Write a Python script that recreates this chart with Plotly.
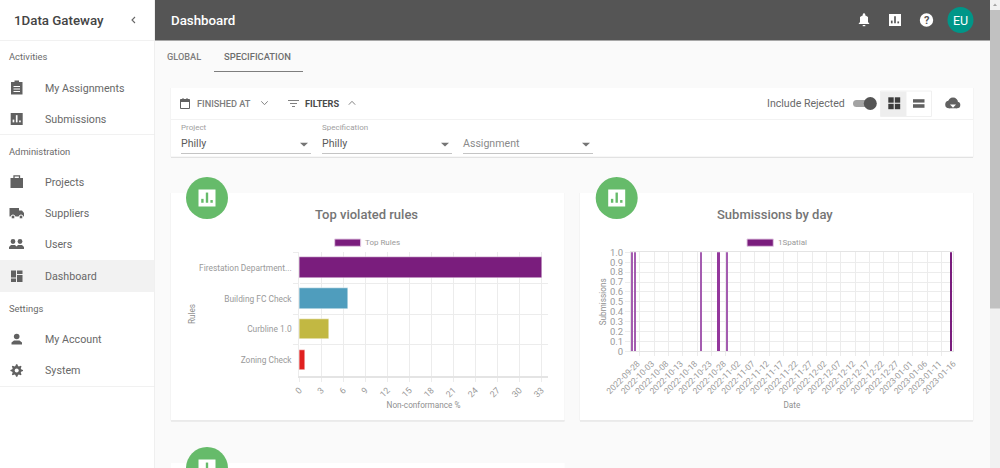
#!/usr/bin/env python

import logging
import math

import pandas as pd
import plotly.graph_objects as go
from plotly.subplots import make_subplots

logging.basicConfig(encoding="utf-8", level=logging.INFO)


WIDTH = 1000
HEIGHT = 468
FONT = "Roboto"
PURPLE = "#7a1d7d"
GREY = "#616161"
GRID = "#ececec"
TICK_TEXT = "#9a9a9a"
TITLE_TEXT = "#8f8f8f"

RULES = ["Firestation Department...", "Building FC Check", "Curbline 1.0", "Zoning Check"]
RULE_VALUES = [33.15, 6.74, 4.1, 0.82]
RULE_COLORS = [PURPLE, "#4f9dbd", "#c2b842", "#e0201f"]

SUBMISSION_DAYS = ["2022-09-27", "2022-09-28", "2022-10-21", "2022-10-27", "2022-10-30", "2023-01-16"]
SUBMISSION_VALUES = [1, 1, 1, 1, 1, 1]
SUBMISSION_COLORS = ["#a45cb0", "#a45cb0", "#a45cb0", "#93379c", "#a45cb0", PURPLE]

shapes = []
annotations = []


def px(x):
    """pixel column to paper coordinate"""
    return x / WIDTH


def py(y):
    """pixel row to paper coordinate"""
    return 1 - y / HEIGHT


def poly(points, color=None, line=None, width=1):
    """add a path through pixel points, closed when it has a fill"""
    path = "M " + " L ".join(f"{px(x):.5f} {py(y):.5f}" for x, y in points)
    if color:
        path += " Z"
    shapes.append(
        dict(
            type="path",
            xref="paper",
            yref="paper",
            path=path,
            fillcolor=color or "rgba(0,0,0,0)",
            line=dict(color=line or "rgba(0,0,0,0)", width=width if line else 0),
            layer="below",
        )
    )


def rect(x0, y0, x1, y1, color, line=None):
    """add a rectangle in pixels"""
    shapes.append(
        dict(
            type="rect",
            xref="paper",
            yref="paper",
            x0=px(x0),
            x1=px(x1),
            y0=py(y0),
            y1=py(y1),
            fillcolor=color,
            line=dict(color=line or "rgba(0,0,0,0)", width=1 if line else 0),
            layer="below",
        )
    )


def circle(cx, cy, r, color, line=None):
    """add a circle in pixels"""
    shapes.append(
        dict(
            type="circle",
            xref="paper",
            yref="paper",
            x0=px(cx - r),
            x1=px(cx + r),
            y0=py(cy + r),
            y1=py(cy - r),
            fillcolor=color,
            line=dict(color=line or "rgba(0,0,0,0)", width=1 if line else 0),
            layer="below",
        )
    )


def text(x, y, label, size=11.5, color=GREY, anchor="left", weight=400):
    """add one label, y is the middle of the text"""
    if anchor == "left":
        x -= 1  # annotations keep a pixel of padding
    annotations.append(
        dict(
            xref="paper",
            yref="paper",
            x=px(x),
            y=py(y + 0.4),
            text=label,
            showarrow=False,
            xanchor=anchor,
            yanchor="middle",
            borderpad=0,
            font=dict(family=FONT, size=size, color=color, weight=weight),
        )
    )


def card(x0, y0, x1, y1):
    """white card with a soft shadow"""
    rect(x0, y0 + 1.5, x1, y1 + 1.5, "#dedede")
    rect(x0 - 0.5, y0, x1 + 0.5, y1 + 0.7, "#eeeeee")
    rect(x0, y0, x1, y1, "#ffffff")


def chart_icon(cx, cy, size, back, front):
    """square with three bars"""
    half = size / 2
    rect(cx - half, cy - half, cx + half, cy + half, back)
    for dx, top in [(-0.27, 0.1), (0, -0.27), (0.27, 0.17)]:
        rect(cx + dx * size - 0.07 * size, cy + top * size - 0.05 * size, cx + dx * size + 0.07 * size,
             cy + 0.28 * size, front)


def chevron(cx, cy, up=False, color="#858585"):
    """small open arrow"""
    tip = -1.7 if up else 1.7
    poly([(cx - 3.2, cy - tip), (cx, cy + tip), (cx + 3.2, cy - tip)], line=color, width=1)


def draw_sidebar():
    """left menu with its icons"""
    rect(0, 0, 154.5, HEIGHT, "#ffffff")
    rect(154.2, 0, 155, HEIGHT, "#ececec")
    rect(0, 40.2, 155, 41, "#ececec")
    rect(0, 134.2, 155, 135, "#ececec")
    rect(0, 260, 154.5, 292, "#f2f2f2")
    rect(0, 386.2, 155, 387, "#ececec")

    text(14, 20, "1Data Gateway", size=13.3, color="#444444", weight=500)
    poly([(135, 17), (132, 20), (135, 23)], line="#666666", width=1.1)

    for y, label in [(56, "Activities"), (151, "Administration"), (308, "Settings")]:
        text(9, y, label, size=9.4, color="#6a6a6a")
    for y, label in [
        (88, "My Assignments"),
        (119, "Submissions"),
        (182, "Projects"),
        (213, "Suppliers"),
        (244.5, "Users"),
        (276, "Dashboard"),
        (339, "My Account"),
        (370.5, "System"),
    ]:
        text(45, y, label, size=10.7, color="#686868")

    # clipboard
    rect(11, 82, 22.5, 94.5, GREY)
    rect(14.5, 80.5, 19, 83, GREY)
    for y in [86, 88.5, 91]:
        rect(13.5, y, 20, y + 1, "#ffffff")
    chart_icon(16.7, 119, 12, GREY, "#ffffff")
    # briefcase
    rect(10.5, 178, 23, 188, GREY)
    poly([(14, 178), (14, 175.8), (19.5, 175.8), (19.5, 178)], line=GREY, width=1.3)
    # truck
    rect(9.5, 208, 19, 216.5, GREY)
    poly([(19, 210.5), (22, 210.5), (24, 213), (24, 216.5), (19, 216.5)], color=GREY)
    for x in [13, 21]:
        circle(x, 217, 2, GREY, line="#ffffff")
    # users
    for x in [13, 20]:
        circle(x, 241.5, 2.4, GREY)
        poly([(x - 4, 249), (x - 4, 247), (x - 2, 245), (x + 2, 245), (x + 4, 247), (x + 4, 249)], color=GREY)
    # dashboard
    rect(11, 270.5, 16, 277.5, GREY)
    rect(11, 278.5, 16, 282, GREY)
    rect(17, 270.5, 22.5, 274, GREY)
    rect(17, 275, 22.5, 282, GREY)
    # account
    circle(16.7, 336.5, 2.8, GREY)
    poly([(11.5, 344.5), (11.5, 342.5), (14, 340.5), (19.5, 340.5), (22, 342.5), (22, 344.5)], color=GREY)
    # gear
    teeth = []
    for i in range(32):
        radius = 6.3 if i % 4 in (0, 1) else 4.6
        angle = 2 * math.pi * (i - 0.5) / 32
        teeth.append((16.7 + radius * math.cos(angle), 370.5 + radius * math.sin(angle)))
    poly(teeth, color=GREY)
    circle(16.7, 370.5, 2, "#ffffff")


def draw_header():
    """dark title bar, tabs and the scrollbar"""
    rect(155, 0, 990, 40.5, "#555555")
    text(170.5, 20, "Dashboard", size=13.3, color="#ffffff", weight=500)

    # bell
    poly([(858.5, 24), (860, 22), (860, 17), (864, 14.5), (868, 17), (868, 22), (869.5, 24)], color="#ffffff")
    circle(864, 14.5, 1.2, "#ffffff")
    rect(862.7, 25, 865.3, 26.2, "#ffffff")
    chart_icon(895, 20, 12, "#ffffff", "#555555")
    circle(926.5, 20, 6.7, "#ffffff")
    text(926.5, 20, "?", size=11, color="#555555", anchor="center", weight=700)
    circle(960.5, 20, 13, "#009688")
    text(960.5, 20, "EU", size=12.5, color="#ffffff", anchor="center")

    text(167, 56, "GLOBAL", size=9.2, color="#7d7d7d", weight=500)
    text(224, 56, "SPECIFICATION", size=9.4, color="#6e6e6e", weight=500)
    rect(214, 71.2, 303, 72, "#555555")

    rect(990, 0, 1000, HEIGHT, "#f1f1f1")
    rect(990, 10, 1000, 308.5, "#c1c1c1")
    poly([(993, 6), (995, 3.5), (997, 6)], color="#a3a3a3")


def draw_filters():
    """the card with the filters"""
    card(171, 88, 973, 156.5)
    rect(171, 119.2, 973, 120, "#eeeeee")

    # calendar
    rect(180.5, 99.5, 189.5, 108.5, "#ffffff", line=GREY)
    rect(180.5, 99.5, 189.5, 102, GREY)
    rect(182.5, 98, 183.5, 100, GREY)
    rect(186.5, 98, 187.5, 100, GREY)
    text(197, 103, "FINISHED AT", size=9.2, color="#7d7d7d", weight=500)
    chevron(264.5, 103)

    # filter lines
    rect(288, 100.2, 299, 101, GREY)
    rect(290, 103.2, 297, 104, GREY)
    rect(292, 106.2, 295, 107, GREY)
    text(305, 103, "FILTERS", size=9.2, color="#4a4a4a", weight=700)
    chevron(352, 103, up=True)

    text(767, 103, "Include Rejected", size=10.6, color="#6a6a6a")
    rect(856, 100, 872, 107, "#a3a3a3")
    circle(856.5, 103.5, 3.5, "#a3a3a3")
    circle(870.3, 103.5, 6.5, "#555555")

    rect(880.5, 91, 931.5, 116.5, "#ffffff", line="#f0f0f0")
    rect(881, 91.5, 906.5, 116, "#eeeeee")
    for x, y in [(891, 100), (897.5, 100), (891, 106.5), (897.5, 106.5)]:
        rect(x - 2.7, y - 2.7, x + 2.7, y + 2.7, "#3c3c3c")
    rect(913, 99.2, 924.5, 102.6, "#616161")
    rect(913, 104.2, 924.5, 107.8, "#616161")

    # cloud
    circle(949, 104.5, 3.8, GREY)
    circle(953, 102.5, 5, GREY)
    circle(957, 105, 3.3, GREY)
    rect(949, 104, 957, 108.3, GREY)
    poly([(950, 104.5), (956, 104.5), (953, 107.8)], color="#ffffff")

    selects = [
        (181, 311, "Project", "Philly", "#5a5a5a"),
        (322, 452, "Specification", "Philly", "#5a5a5a"),
        (463, 593, "", "Assignment", "#8a8a8a"),
    ]
    for x0, x1, label, value, color in selects:
        if label:
            text(x0, 127.5, label, size=8, color="#a0a0a0")
        text(x0, 143, value, size=10.6, color=color)
        rect(x0, 153.2, x1, 154, "#b0b0b0")
        poly([(x1 - 11, 142.7), (x1 - 3, 142.7), (x1 - 7, 146.5)], color="#757575")


def draw_chart_cards():
    """cards, green badges, titles and legend keys around the charts"""
    card(171, 193, 564.5, 420)
    card(580, 193, 973, 420)
    rect(171, 463, 564.5, 470, "#ffffff")

    for cx, cy in [(207, 198), (616.7, 198), (207, 468)]:
        circle(cx, cy, 21, "#66bb6a")
        chart_icon(cx, cy, 17, "#ffffff", "#66bb6a")

    text(366, 214, "Top violated rules", size=13, color="#757575", anchor="center", weight=500)
    text(775, 214, "Submissions by day", size=13, color="#757575", anchor="center", weight=500)

    rect(334.7, 239, 360.7, 246.3, PURPLE, line="#e3cbe4")
    text(364.5, 242, "Top Rules", size=8, color=TICK_TEXT)
    rect(747, 239, 773.3, 246.3, PURPLE, line="#e3cbe4")
    text(777.5, 242, "1Spatial", size=8, color=TICK_TEXT)


if __name__ == "__main__":
    logging.info("drawing page")
    draw_sidebar()
    draw_header()
    draw_filters()
    draw_chart_cards()

    # now plot
    fig = make_subplots(rows=1, cols=2)
    fig.add_trace(
        go.Bar(
            x=RULE_VALUES,
            y=RULES,
            orientation="h",
            width=0.67,
            name="Top Rules",
            marker=dict(color=RULE_COLORS, line=dict(color="rgba(255,255,255,0.5)", width=1)),
            showlegend=False,
        ),
        row=1,
        col=1,
    )
    fig.add_trace(
        go.Bar(
            x=SUBMISSION_DAYS,
            y=SUBMISSION_VALUES,
            width=50000000,  # ms, about a thin 2 px bar
            name="1Spatial",
            marker=dict(color=SUBMISSION_COLORS, line_width=0),
            showlegend=False,
        ),
        row=1,
        col=2,
    )

    fig.update_xaxes(
        domain=[px(299.3), px(547.7)],
        range=[0, 33.87],
        tickvals=list(range(0, 34, 3)),
        tickangle=-45,
        tickfont=dict(family=FONT, size=8.8, color=TICK_TEXT),
        gridcolor=GRID,
        showline=True,
        linecolor="#e4e4e4",
        linewidth=2,
        ticks="outside",
        ticklen=4,
        tickcolor=GRID,
        title_text="Non-conformance %",
        title_font=dict(family=FONT, size=8.2, color=TITLE_TEXT),
        title_standoff=4,
        automargin=False,
        row=1,
        col=1,
    )
    fig.update_yaxes(
        domain=[py(375.7), py(252.3)],
        type="category",
        categoryorder="array",
        categoryarray=RULES,
        range=[3.5, -0.5],
        tickson="boundaries",
        tickfont=dict(family=FONT, size=8.4, color=TICK_TEXT),
        ticklabelstandoff=5,
        gridcolor=GRID,
        showline=True,
        linecolor=GRID,
        ticks="outside",
        ticklen=5,
        tickcolor=GRID,
        title_text="Rules",
        title_font=dict(family=FONT, size=8.2, color=TITLE_TEXT),
        title_standoff=2,
        automargin=False,
        row=1,
        col=1,
    )

    label_days = pd.date_range("2022-09-28", "2023-01-16", freq="5D")
    fig.update_xaxes(
        domain=[px(631), px(952.7)],
        type="date",
        range=["2022-09-26 11:00", "2023-01-16 10:00"],
        tickmode="array",
        tickvals=label_days,
        tickformat="%Y-%m-%d",
        tickangle=-45,
        tickfont=dict(family=FONT, size=8.5, color=TICK_TEXT),
        ticklabelstandoff=3,
        ticklabelshift=2,
        showgrid=False,
        ticks="",
        showline=True,
        mirror=True,
        linecolor="#e4e4e4",
        minor=dict(  # the picture has its grid a little right of the label ends
            tickmode="array",
            tickvals=label_days + pd.Timedelta(hours=36),
            showgrid=True,
            gridcolor=GRID,
            ticks="outside",
            ticklen=4,
            tickcolor=GRID,
        ),
        title_text="Date",
        title_font=dict(family=FONT, size=8.2, color=TITLE_TEXT),
        title_standoff=7,
        automargin=False,
        row=1,
        col=2,
    )
    fig.update_yaxes(
        domain=[py(351.3), py(252.3)],
        range=[0, 1],
        tickmode="array",
        tickvals=[i / 10 for i in range(11)],
        ticktext=["0", "0.1", "0.2", "0.3", "0.4", "0.5", "0.6", "0.7", "0.8", "0.9", "1.0"],
        tickfont=dict(family=FONT, size=9.5, color=TICK_TEXT),
        gridcolor=GRID,
        zeroline=False,
        showline=True,
        mirror=True,
        linecolor="#e4e4e4",
        ticks="outside",
        ticklen=5,
        tickcolor=GRID,
        title_text="Submissions",
        title_font=dict(family=FONT, size=8.2, color=TITLE_TEXT),
        title_standoff=2,
        automargin=False,
        row=1,
        col=2,
    )

    fig.update_layout(
        width=WIDTH,
        height=HEIGHT,
        margin=dict(l=0, r=0, t=0, b=0),
        paper_bgcolor="#fafafa",
        plot_bgcolor="rgba(0,0,0,0)",
        shapes=shapes,
        annotations=annotations,
        bargap=0,
    )

    logging.info("saving plot")
    fig.write_html(
        "out.html",
        config=dict(displayModeBar=False),
        post_script="document.body.style.margin='0';document.body.style.overflow='hidden';",
    )
